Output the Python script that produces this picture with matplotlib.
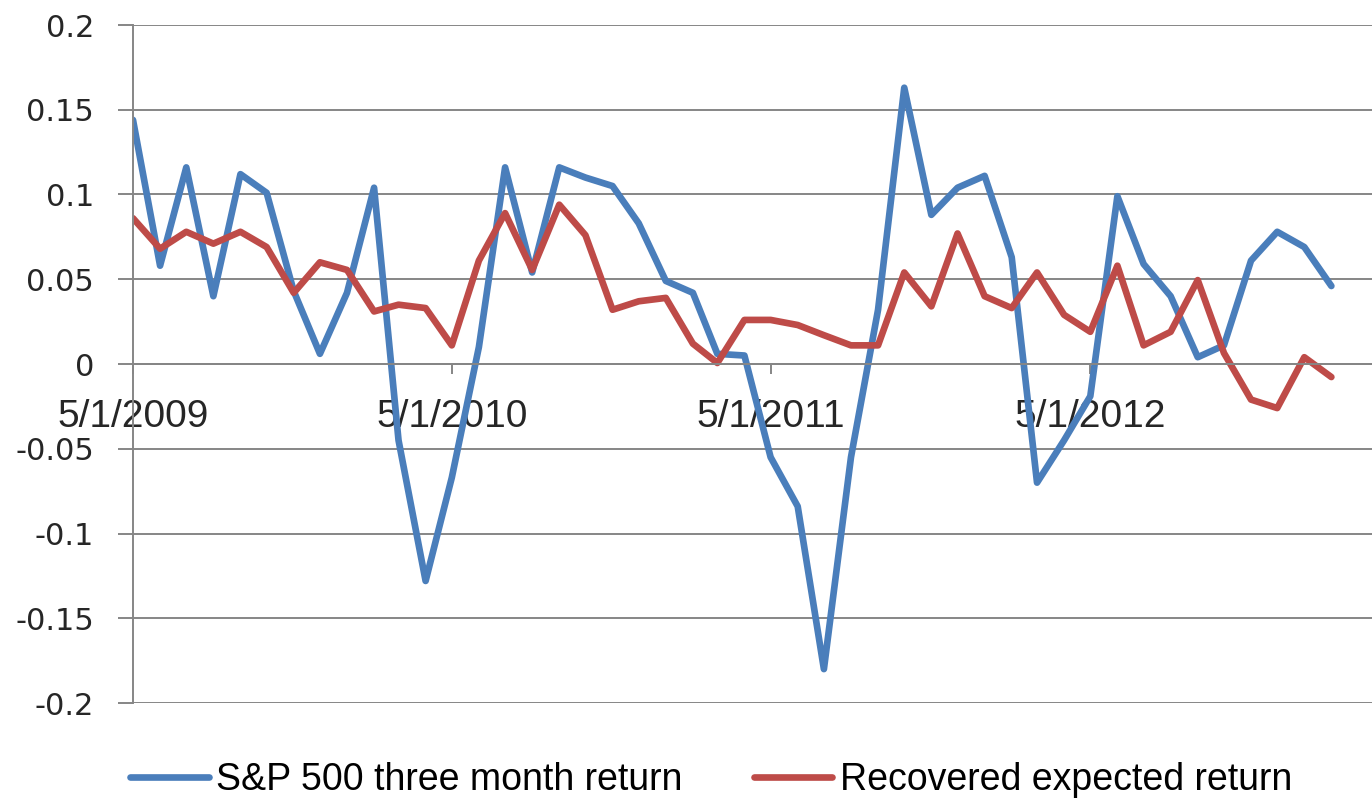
import matplotlib
matplotlib.use("Agg")
import matplotlib.pyplot as plt
import matplotlib.dates as mdates
import pandas as pd
import numpy as np

dates = pd.date_range("2009-05-01", periods=46, freq="MS")

sp500_return = [
    0.144, 0.058, 0.116, 0.040, 0.112, 0.101, 0.043, 0.006, 0.042, 0.104,
    -0.045, -0.128, -0.067, 0.010, 0.116, 0.054, 0.116, 0.110, 0.105, 0.083,
    0.049, 0.042, 0.006, 0.005, -0.055, -0.084, -0.180, -0.055, 0.032, 0.163,
    0.088, 0.104, 0.111, 0.063, -0.070, -0.045, -0.019, 0.099, 0.059, 0.040,
    0.004, 0.011, 0.061, 0.078, 0.069, 0.046,
]
recovered_return = [
    0.086, 0.068, 0.078, 0.071, 0.078, 0.069, 0.042, 0.060, 0.0555, 0.031,
    0.035, 0.033, 0.011, 0.061, 0.089, 0.0555, 0.094, 0.076, 0.032, 0.037,
    0.039, 0.012, 0.0006, 0.026, 0.026, 0.023, 0.017, 0.011, 0.011, 0.054,
    0.034, 0.077, 0.040, 0.033, 0.054, 0.029, 0.019, 0.058, 0.011, 0.019,
    0.0495, 0.0065, -0.021, -0.026, 0.004, -0.0077,
]
series_names = ["S&P 500 three month return", "Recovered expected return"]
y_ticks = [-0.2, -0.15, -0.1, -0.05, 0, 0.05, 0.1, 0.15, 0.2]
y_tick_labels = ["-0.2", "-0.15", "-0.1", "-0.05", "0", "0.05", "0.1", "0.15", "0.2"]
x_tick_dates = pd.to_datetime(["2009-05-01", "2010-05-01", "2011-05-01", "2012-05-01"])
x_tick_labels = ["5/1/2009", "5/1/2010", "5/1/2011", "5/1/2012"]

W, H = 1372, 805
fig = plt.figure(figsize=(W / 100, H / 100), dpi=100)
ax = fig.add_axes([133 / W, 1 - 703 / H, (W - 133) / W, (703 - 25) / H])

grid_c = "#868686"
blue = "#4A7EBB"
red = "#BE4B48"

for s in ["top", "right"]:
    ax.spines[s].set_visible(False)
ax.spines["left"].set_color(grid_c)
ax.spines["left"].set_linewidth(1.4)
ax.spines["bottom"].set_position(("data", 0))
ax.spines["bottom"].set_color(grid_c)
ax.spines["bottom"].set_linewidth(1.4)

ax.plot(dates, sp500_return, color=blue, lw=4.8, solid_joinstyle="round",
        solid_capstyle="round", label=series_names[0])
ax.plot(dates, recovered_return, color=red, lw=4.8, solid_joinstyle="round",
        solid_capstyle="round", label=series_names[1])

ax.set_ylim(-0.2, 0.2)
x0 = mdates.date2num(pd.Timestamp("2009-05-01"))
ax.set_xlim(x0, x0 + 46.6 * 30.44)

ax.set_yticks(y_ticks)
ax.set_yticklabels(y_tick_labels, fontsize=22, family="DejaVu Sans", color="#262626")
ax.yaxis.grid(True, color=grid_c, lw=1.4)
ax.set_axisbelow(True)
ax.tick_params(axis="y", length=11, width=1.4, color=grid_c, pad=17)

ax.set_xticks(mdates.date2num(x_tick_dates))
ax.set_xticklabels(x_tick_labels, fontsize=28, family=["Liberation Sans", "DejaVu Sans"], color="#262626")
ax.tick_params(axis="x", length=7, width=1.4, color=grid_c, direction="out", pad=18)

fig.legend(loc="center", bbox_to_anchor=(711 / W, 1 - 780 / H), ncol=2, frameon=False,
           prop={"family": ["Liberation Sans Narrow", "Liberation Sans"], "size": 27},
           handlelength=2.1, handletextpad=0.2, columnspacing=1.9)

fig.savefig("out.png", dpi=100, facecolor="white")
